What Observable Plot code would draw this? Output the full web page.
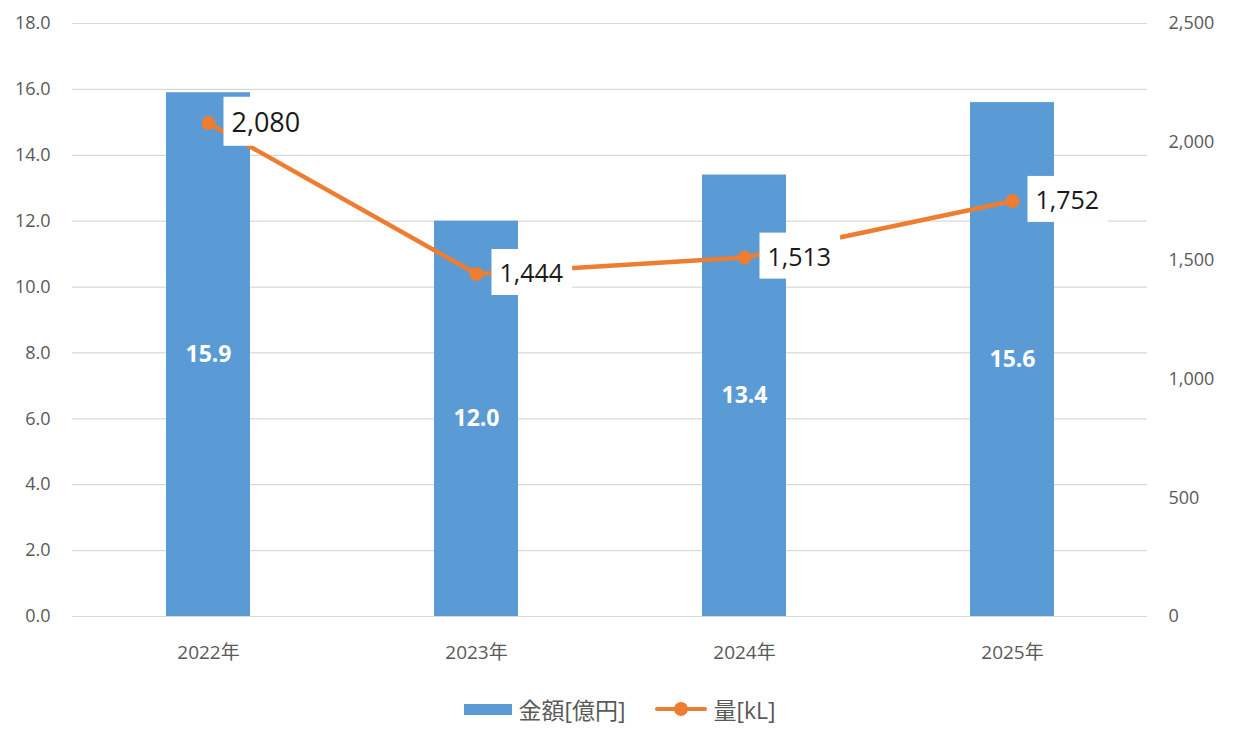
<!DOCTYPE html>
<html>
<head>
<meta charset="utf-8">
<script src="https://cdn.jsdelivr.net/npm/d3@7"></script>
<script src="https://cdn.jsdelivr.net/npm/@observablehq/plot@0.6"></script>
<style>
  html, body { margin: 0; padding: 0; background: #fff; }
  body { width: 1240px; height: 739px; overflow: hidden; font-family: "Open Sans", "Noto Sans CJK JP", sans-serif; }
  #legend { display: flex; justify-content: center; align-items: center; height: 40px; margin-top: 9px; color: #595959; font-size: 23px; font-family: "Open Sans", "Noto Sans CJK JP", sans-serif; }
  .item { display: flex; align-items: center; margin: 0 15px; }
  .sw-bar { width: 48px; height: 11px; background: #5B9BD5; margin-right: 6px; }
  .sw-line { position: relative; width: 52px; height: 14px; margin-right: 6px; }
  .sw-line::before { content: ""; position: absolute; left: 0; right: 0; top: 5px; height: 4px; background: #ED7D31; border-radius: 2px; }
  .sw-line::after { content: ""; position: absolute; left: 19px; top: 0; width: 14px; height: 14px; border-radius: 50%; background: #ED7D31; }
</style>
</head>
<body>
<div id="chart"></div>
<div id="legend">
  <div class="item"><div class="sw-bar"></div><span>金額[億円]</span></div>
  <div class="item"><div class="sw-line"></div><span>量[kL]</span></div>
</div>
<script>
const years = ["2022年", "2023年", "2024年", "2025年"];
const amounts = [15.9, 12.0, 13.4, 15.6];          // 金額[億円] (left axis)
const volumes = [2080, 1444, 1513, 1752];          // 量[kL] (right axis)
const leftTicks = [0, 2, 4, 6, 8, 10, 12, 14, 16, 18];
const rightTicks = [0, 500, 1000, 1500, 2000, 2500];

const leftMax = 18, rightMax = 2500;
const k = leftMax / rightMax;

const data = years.map((y, i) => ({year: y, amount: amounts[i], volume: volumes[i], vScaled: volumes[i] * k}));

const chart = Plot.plot({
  width: 1240,
  height: 680,
  marginLeft: 72,
  marginRight: 93,
  marginTop: 23,
  marginBottom: 64,
  style: {fontFamily: '"Open Sans", "Noto Sans CJK JP", sans-serif', fontSize: "18px", color: "#595959", background: "#fff"},
  x: {domain: years, paddingInner: 0.6875, paddingOuter: 0.344, label: null},
  y: {domain: [0, leftMax], label: null},
  marks: [
    Plot.gridY(leftTicks, {stroke: "#d9d9d9", strokeOpacity: 1, strokeWidth: 1.2}),
    Plot.axisY(leftTicks, {anchor: "left", tickSize: 0, tickPadding: 22, tickFormat: d => d.toFixed(1), label: null}),
    Plot.axisY(rightTicks.map(t => t * k), {anchor: "right", tickSize: 0, tickPadding: 21, tickFormat: d => d3.format(",")(Math.round(d / k)), label: null}),
    Plot.axisX({tickSize: 0, tickPadding: 29, fontSize: 19, label: null}),
    Plot.barY(data, {x: "year", y: "amount", fill: "#5B9BD5"}),
    Plot.text(data, {x: "year", y: d => d.amount / 2, text: d => d.amount.toFixed(1), fill: "#fff", fontWeight: "bold", fontSize: 23}),
    Plot.line(data, {x: "year", y: "vScaled", stroke: "#ED7D31", strokeWidth: 4.5}),
    Plot.dot(data, {x: "year", y: "vScaled", r: 7, fill: "#ED7D31"}),
    Plot.text(data, {x: "year", y: "vScaled", text: d => d3.format(",")(d.volume), textAnchor: "start", dx: 23, fontSize: d => d.volume > 2000 ? 27 : 25, fill: "#1a1a1a"})
  ]
});
document.getElementById("chart").appendChild(chart);

// white boxes behind the volume labels (last text mark group)
const groups = chart.querySelectorAll('g[aria-label="text"]');
const g = groups[groups.length - 1];
if (g) {
  g.querySelectorAll("text").forEach(t => {
    const b = t.getBBox();
    const rect = document.createElementNS("http://www.w3.org/2000/svg", "rect");
    const tr = t.getAttribute("transform");
    if (tr) rect.setAttribute("transform", tr);
    rect.setAttribute("x", b.x - 8);
    rect.setAttribute("y", b.y - 6);
    rect.setAttribute("width", b.width + 17);
    rect.setAttribute("height", b.height + 12);
    rect.setAttribute("fill", "#fff");
    g.insertBefore(rect, t);
  });
}
</script>
</body>
</html>
